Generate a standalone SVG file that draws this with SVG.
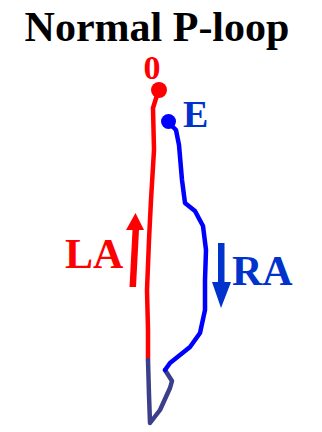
<svg xmlns="http://www.w3.org/2000/svg" width="322" height="432" viewBox="0 0 322 432">
<style>
.t{font-family:"Liberation Serif","Times New Roman",serif;font-weight:bold}
.trace{fill:none;stroke-width:4.5;stroke-linejoin:round;stroke-linecap:round}
</style>
<rect width="322" height="432" fill="#fff"/>
<text class="t" x="157" y="41" font-size="42" text-anchor="middle" fill="#000">Normal P-loop</text>
<g id="connectors">
  <path id="la-trace" class="trace" stroke="#ff0000" d="M158,92 L153,108 L154,150 L151,200 L149,240 L147,290 L148,330 L148,360"/>
  <path id="bottom-trace" class="trace" stroke="#3b3f8a" d="M148,360 L149,395 L150,423 L160,410 L170,388 L172,381 L165,370"/>
  <path id="ra-trace" class="trace" stroke="#0000ff" d="M168,122 L176,130 L179,145 L182,180 L185,203 L195,211 L203,226 L206,250 L205,280 L205,310 L200,333 L190,347 L170,363 L165,370"/>
  <path id="la-arrow" d="M129.5,287 L136,287 L139,230 L144,230 L135.5,213 L126,230 L132.5,230 Z" fill="#ff0000"/>
  <path id="ra-arrow" d="M218,243 L224.5,243 L224.5,282 L231,282 L221,308 L212,282 L218,282 Z" fill="#0033cc"/>
</g>
<g id="node-0">
  <circle cx="159" cy="90" r="8" fill="#ff0000"/>
  <text class="t" x="152" y="79" font-size="34" text-anchor="middle" fill="#ff0000">0</text>
</g>
<g id="node-E">
  <circle cx="168.5" cy="121.5" r="7.5" fill="#0000ff"/>
  <text class="t" x="183" y="127" font-size="38" fill="#0033cc">E</text>
</g>
<g id="label-LA">
  <text class="t" x="65" y="268" font-size="42" fill="#ff0000">LA</text>
</g>
<g id="label-RA">
  <text class="t" x="232" y="285" font-size="42" fill="#0033cc">RA</text>
</g>
</svg>
